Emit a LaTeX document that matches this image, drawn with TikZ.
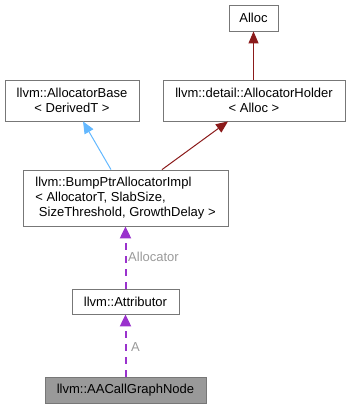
\documentclass[tikz,border=0pt]{standalone}
\usepackage{fontspec}
\setmainfont{Liberation Sans}
\usetikzlibrary{arrows.meta}
\definecolor{boxline}{HTML}{777777}
\definecolor{hlfill}{HTML}{999999}
\definecolor{pubblue}{HTML}{63B8FF}
\definecolor{privred}{HTML}{8B1A1A}
\definecolor{usepurple}{HTML}{9A32CD}
\definecolor{lblgray}{HTML}{9A9A9A}
\begin{document}
\begin{tikzpicture}[x=1pt,y=-1pt,
  cls/.style={draw=boxline, line width=0.8pt, fill=white, inner sep=0pt,
    font=\fontsize{13}{15}\selectfont, align=center},
  inherit/.style={line width=1pt, -{Triangle[length=12pt,width=10pt]}},
  member/.style={line width=2pt, usepurple,
    dash pattern=on 7pt off 6pt,
    -{Triangle[length=12pt,width=11pt]}},
  lbl/.style={font=\fontsize{13}{15}\selectfont, text=lblgray, inner sep=0pt, anchor=west}]
\useasboundingbox (0,0) rectangle (350,409);

\node[cls, minimum width=49pt, minimum height=26pt] (alloc) at (253.5,18) {Alloc};
\node[cls, minimum width=134pt, minimum height=41pt] (base) at (72,100.5)
  {llvm::AllocatorBase\\< DerivedT >};
\node[cls, minimum width=182pt, minimum height=41pt] (holder) at (254,100.5)
  {llvm::detail::AllocatorHolder\\< Alloc >};
\node[cls, minimum width=205pt, minimum height=56pt, align=left]
  (bump) at (125.5,198)
  {llvm::BumpPtrAllocatorImpl\\< AllocatorT, SlabSize,\\\ SizeThreshold, GrowthDelay >};
\node[cls, minimum width=107pt, minimum height=25pt] (attr) at (125.5,301.5)
  {llvm::Attributor};
\node[cls, fill=hlfill, minimum width=161pt, minimum height=26pt] (node) at (125.5,390)
  {llvm::AACallGraphNode};

\draw[inherit, privred] (holder.north -| alloc.south) -- (alloc.south);
\draw[inherit, pubblue] ([xshift=-14.5pt]bump.north) -- ([xshift=11pt]base.south);
\draw[inherit, privred] ([xshift=36.5pt]bump.north) -- ([xshift=-26pt]holder.south);
\draw[member] (attr.north) -- (bump.south);
\draw[member] (node.north) -- (attr.south);

\node[lbl] (lalloc) at (128,257) {Allocator};
\node[lbl] (la) at (131,347) {A};
\end{tikzpicture}
\end{document}
